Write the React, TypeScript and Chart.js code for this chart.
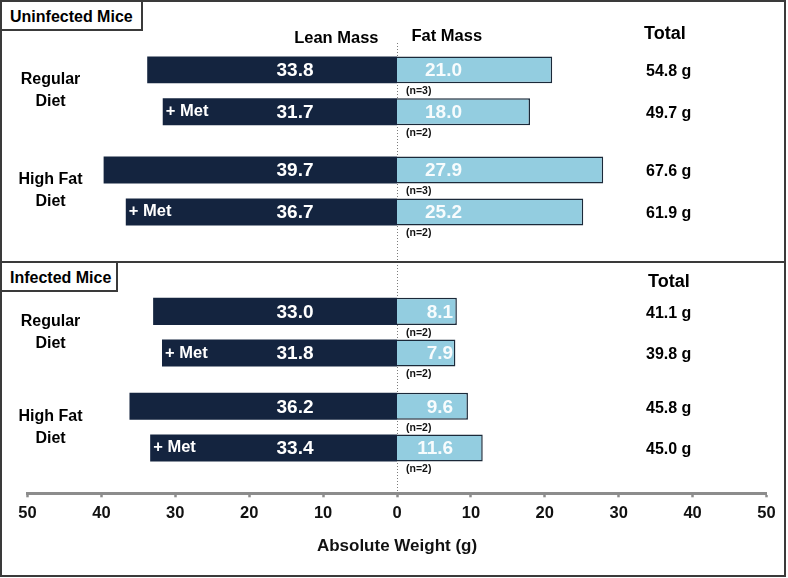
import React, { useEffect, useRef } from 'react';
import { Chart, registerables } from 'chart.js';

Chart.register(...registerables);

const FONT = "'Liberation Sans', Arial, Helvetica, sans-serif";
Chart.defaults.font.family = FONT;

// ---- data ----
const dietCategories = ['Regular Diet', 'High Fat Diet'];
const dietLabelLines = [['Regular', 'Diet'], ['High Fat', 'Diet']];

const uninfectedLean = [33.8, 39.7];
const uninfectedLeanMet = [31.7, 36.7];
const uninfectedFat = [21.0, 27.9];
const uninfectedFatMet = [18.0, 25.2];
const uninfectedTotal = [54.8, 67.6];
const uninfectedTotalMet = [49.7, 61.9];
const uninfectedN = [3, 3];
const uninfectedNMet = [2, 2];

const infectedLean = [33.0, 36.2];
const infectedLeanMet = [31.8, 33.4];
const infectedFat = [8.1, 9.6];
const infectedFatMet = [7.9, 11.6];
const infectedTotal = [41.1, 45.8];
const infectedTotalMet = [39.8, 45.0];
const infectedN = [2, 2];
const infectedNMet = [2, 2];

const axisMin = -50;
const axisMax = 50;
const axisStep = 10;
const axisTitle = 'Absolute Weight (g)';

// ---- styles ----
const LEAN = '#14243f';
const FAT = '#93cde0';
const FAT_BORDER = '#1b2939';
const PAD_LEFT = 27.5;
const PAD_RIGHT = 21.5;

type PanelOpts = {
  lean: number[]; leanMet: number[]; fat: number[]; fatMet: number[];
  total: number[]; totalMet: number[]; n: number[]; nMet: number[];
  padTop: number; padBottom: number; cp: number; bp: number;
  zeroTop: number; fatLabelAt: number; leanLabelAt: number;
  headers: boolean; totalHeaderY: number; totalHeaderX: number;
};

function text(ctx: CanvasRenderingContext2D, s: string, x: number, y: number, size: number, color: string, align: CanvasTextAlign) {
  ctx.font = `bold ${size}px ${FONT}`;
  ctx.fillStyle = color;
  ctx.textAlign = align;
  ctx.textBaseline = 'middle';
  ctx.fillText(s, x, y);
}

function panelPlugin(o: PanelOpts) {
  return {
    id: 'panelDecor',
    beforeDatasetsDraw(chart: any) {
      const ctx = chart.ctx as CanvasRenderingContext2D;
      const x0 = Math.round(chart.scales.x.getPixelForValue(0)) + 0.5;
      ctx.save();
      ctx.strokeStyle = '#7c7c7c';
      ctx.lineWidth = 1;
      ctx.setLineDash([1, 2]);
      ctx.beginPath();
      ctx.moveTo(x0, o.zeroTop);
      ctx.lineTo(x0, chart.height);
      ctx.stroke();
      ctx.restore();
    },
    afterDatasetsDraw(chart: any) {
      const ctx = chart.ctx as CanvasRenderingContext2D;
      const xs = chart.scales.x;
      const ys = chart.scales.y;
      const x0 = xs.getPixelForValue(0);
      ctx.save();
      if (o.headers) {
        text(ctx, 'Lean Mass', x0 - 18.5, 38, 16.5, '#000', 'right');
        text(ctx, 'Fat Mass', x0 + 14.5, 36, 16.5, '#000', 'left');
      }
      text(ctx, 'Total', o.totalHeaderX, o.totalHeaderY, 18, '#000', 'left');

      dietLabelLines.forEach((lines, j) => {
        const yc = ys.getPixelForValue(j);
        text(ctx, lines[0], 50.5, yc - 11, 16, '#000', 'center');
        text(ctx, lines[1], 50.5, yc + 11, 16, '#000', 'center');
      });

      const leanC = chart.getDatasetMeta(0).data;
      const leanM = chart.getDatasetMeta(1).data;
      const fatC = chart.getDatasetMeta(2).data;
      const fatM = chart.getDatasetMeta(3).data;
      const leanLabelX = xs.getPixelForValue(o.leanLabelAt);
      const fatLabelX = xs.getPixelForValue(o.fatLabelAt);

      const rows = [
        { lean: leanC, fat: fatC, lv: o.lean, fv: o.fat, tot: o.total, n: o.n, met: false },
        { lean: leanM, fat: fatM, lv: o.leanMet, fv: o.fatMet, tot: o.totalMet, n: o.nMet, met: true },
      ];
      rows.forEach((r) => {
        r.lean.forEach((el: any, j: number) => {
          const { x, y, base } = el.getProps(['x', 'y', 'base'], true);
          text(ctx, r.lv[j].toFixed(1), leanLabelX, y + 1, 19, '#ffffff', 'right');
          if (r.met) text(ctx, '+ Met', Math.min(x, base) + 3, y, 16.5, '#ffffff', 'left');
          text(ctx, `${r.tot[j].toFixed(1)} g`, 646, y + 2, 16, '#000', 'left');
        });
        r.fat.forEach((el: any, j: number) => {
          const { y, height } = el.getProps(['y', 'height'], true);
          text(ctx, r.fv[j].toFixed(1), fatLabelX, y + 1, 19, 'rgba(255,255,255,0.93)', 'right');
          text(ctx, `(n=${r.n[j]})`, x0 + 9, y + height / 2 + 8, 10.5, '#111', 'left');
        });
      });
      ctx.restore();
    },
  };
}

function makePanel(canvas: HTMLCanvasElement, o: PanelOpts) {
  const common = { categoryPercentage: o.cp, barPercentage: o.bp };
  return new Chart(canvas, {
    type: 'bar',
    data: {
      labels: dietCategories,
      datasets: [
        { label: 'Lean Mass', data: o.lean.map((v) => -v), stack: 'control', backgroundColor: LEAN, borderWidth: 0, ...common },
        { label: 'Lean Mass + Met', data: o.leanMet.map((v) => -v), stack: 'met', backgroundColor: LEAN, borderWidth: 0, ...common },
        { label: 'Fat Mass', data: o.fat, stack: 'control', backgroundColor: FAT, borderColor: FAT_BORDER, borderWidth: 1.5, ...common },
        { label: 'Fat Mass + Met', data: o.fatMet, stack: 'met', backgroundColor: FAT, borderColor: FAT_BORDER, borderWidth: 1.5, ...common },
      ],
    },
    options: {
      indexAxis: 'y',
      responsive: false,
      animation: false,
      layout: { padding: { left: PAD_LEFT, right: PAD_RIGHT, top: o.padTop, bottom: o.padBottom } },
      scales: {
        x: { display: false, min: axisMin, max: axisMax, stacked: true },
        y: { display: false, stacked: true },
      },
      plugins: { legend: { display: false }, tooltip: { enabled: false } },
    } as any,
    plugins: [panelPlugin(o)],
  });
}

function makeAxis(canvas: HTMLCanvasElement) {
  return new Chart(canvas, {
    type: 'scatter',
    data: { datasets: [{ data: [] }] },
    options: {
      responsive: false,
      animation: false,
      layout: { padding: { left: PAD_LEFT, right: PAD_RIGHT, top: 0, bottom: 21.4 } },
      scales: {
        x: {
          type: 'linear',
          min: axisMin,
          max: axisMax,
          ticks: {
            stepSize: axisStep,
            callback: (v: any) => String(Math.abs(Number(v))),
            font: { family: FONT, size: 16.5, weight: 'bold' },
            color: '#111',
            padding: 6,
            maxRotation: 0,
            autoSkip: false,
          },
          grid: { display: true, drawOnChartArea: false, drawTicks: true, tickLength: 4, tickWidth: 2.5, tickColor: '#8c8c8c', color: '#8c8c8c' },
          border: { display: true, color: '#8c8c8c', width: 3 },
          title: { display: true, text: axisTitle, font: { family: FONT, size: 17, weight: 'bold' }, color: '#111', padding: { top: 8.4, bottom: 0 } },
        },
        y: { display: false },
      },
      plugins: { legend: { display: false }, tooltip: { enabled: false } },
    } as any,
  });
}

export default function App() {
  const upperRef = useRef<HTMLCanvasElement>(null);
  const lowerRef = useRef<HTMLCanvasElement>(null);
  const axisRef = useRef<HTMLCanvasElement>(null);

  useEffect(() => {
    const upper = makePanel(upperRef.current!, {
      lean: uninfectedLean, leanMet: uninfectedLeanMet, fat: uninfectedFat, fatMet: uninfectedFatMet,
      total: uninfectedTotal, totalMet: uninfectedTotalMet, n: uninfectedN, nMet: uninfectedNMet,
      padTop: 40.7, padBottom: 20.9, cp: 0.835, bp: 0.645,
      zeroTop: 43, fatLabelAt: 8.8, leanLabelAt: -11.3,
      headers: true, totalHeaderX: 644, totalHeaderY: 34,
    });
    const lower = makePanel(lowerRef.current!, {
      lean: infectedLean, leanMet: infectedLeanMet, fat: infectedFat, fatMet: infectedFatMet,
      total: infectedTotal, totalMet: infectedTotalMet, n: infectedN, nMet: infectedNMet,
      padTop: 22.75, padBottom: 17.45, cp: 0.877, bp: 0.65,
      zeroTop: 0, fatLabelAt: 7.6, leanLabelAt: -11.3,
      headers: false, totalHeaderX: 648, totalHeaderY: 20,
    });
    const axis = makeAxis(axisRef.current!);
    return () => { upper.destroy(); lower.destroy(); axis.destroy(); };
  }, []);

  const abs = (l: number, t: number, w: number, h: number): React.CSSProperties => ({ position: 'absolute', left: l, top: t, width: w, height: h });
  const boxStyle: React.CSSProperties = {
    boxSizing: 'border-box', border: '2px solid #3a3a3a', background: '#fff',
    fontFamily: FONT, fontWeight: 'bold', fontSize: 16, color: '#000',
    display: 'flex', alignItems: 'center', paddingLeft: 8, paddingTop: 2,
  };

  return (
    <div style={{ position: 'fixed', left: 0, top: 0, width: 788, height: 578, background: '#fff', overflow: 'hidden' }}>
      <canvas ref={upperRef} width={788} height={262} style={{ ...abs(0, 0, 788, 262) }} />
      <canvas ref={lowerRef} width={788} height={230} style={{ ...abs(0, 262, 788, 230) }} />
      <canvas ref={axisRef} width={788} height={148} style={{ ...abs(0, 430, 788, 148) }} />
      <div style={{ ...abs(0, 0, 786, 577), boxSizing: 'border-box', border: '2px solid #3a3a3a', pointerEvents: 'none' }} />
      <div style={{ ...abs(0, 261, 786, 2), background: '#3a3a3a' }} />
      <div style={{ ...abs(0, 0, 143, 31), ...boxStyle }}>Uninfected Mice</div>
      <div style={{ ...abs(0, 261, 118, 31), ...boxStyle }}>Infected Mice</div>
    </div>
  );
}
